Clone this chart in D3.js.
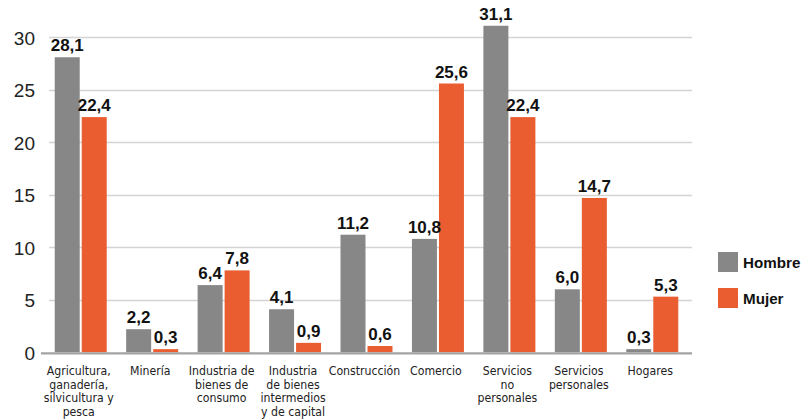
<!DOCTYPE html>
<html>
<head>
<meta charset="utf-8">
<script src="https://cdn.jsdelivr.net/npm/d3@7"></script>
<style>
  html, body { margin: 0; padding: 0; background: #fff; }
  svg { display: block; }
</style>
</head>
<body>
<svg id="chart" width="804" height="420"></svg>
<script>
// Sector labels (line breaks as drawn under the axis)
const categories = [
  "Agricultura,\nganadería,\nsilvicultura y\npesca",
  "Minería",
  "Industria de\nbienes de\nconsumo",
  "Industria\nde bienes\nintermedios\ny de capital",
  "Construcción",
  "Comercio",
  "Servicios\nno\npersonales",
  "Servicios\npersonales",
  "Hogares"
];
const hombre = [28.1, 2.2, 6.4, 4.1, 11.2, 10.8, 31.1, 6.0, 0.3];
const mujer  = [22.4, 0.3, 7.8, 0.9, 0.6, 25.6, 22.4, 14.7, 5.3];
const seriesNames = ["Hombre", "Mujer"];
const yTicks = [0, 5, 10, 15, 20, 25, 30];

const colors = { Hombre: "#878787", Mujer: "#E95D30" };

const svg = d3.select("#chart");

const x = d3.scaleBand()
  .domain(d3.range(categories.length))
  .range([45, 688])
  .paddingInner(0)
  .paddingOuter(0);

const y = d3.scaleLinear()
  .domain([0, 30])
  .range([352.3, 37.3]);

// Horizontal gridlines
svg.append("g")
  .selectAll("line")
  .data(yTicks.filter(d => d > 0))
  .join("line")
  .attr("x1", 49).attr("x2", 692)
  .attr("y1", d => Math.round(y(d)) + 0.5)
  .attr("y2", d => Math.round(y(d)) + 0.5)
  .attr("stroke", "#d4d4d4")
  .attr("stroke-width", 1.3);

// Y axis tick labels
const yAxis = d3.axisLeft(y).tickValues(yTicks).tickSize(0).tickPadding(0);
const gy = svg.append("g").attr("transform", "translate(35,0)").call(yAxis);
gy.select(".domain").remove();
gy.selectAll("text")
  .attr("font-family", "'Liberation Sans', Arial, sans-serif")
  .attr("font-size", 19)
  .attr("fill", "#222")
  .attr("dy", "0.36em");

// Bars
const barW = 25, gap = 2;
const rows = categories.map((c, i) => ({ i, values: [hombre[i], mujer[i]] }));

const groups = svg.append("g")
  .selectAll("g")
  .data(rows)
  .join("g")
  .attr("transform", d => `translate(${x(d.i) + x.bandwidth() / 2},0)`);

groups.selectAll("rect")
  .data(d => d.values.map((v, k) => ({ v, k })))
  .join("rect")
  .attr("x", d => d.k === 0 ? -(barW + gap / 2) : gap / 2)
  .attr("width", barW)
  .attr("y", d => y(d.v))
  .attr("height", d => y(0) - y(d.v))
  .attr("fill", d => colors[seriesNames[d.k]]);

// Value labels
const fmt = v => d3.format(".1f")(v).replace(".", ",");
groups.selectAll("text.val")
  .data(d => d.values.map((v, k) => ({ v, k })))
  .join("text")
  .attr("class", "val")
  .attr("x", d => d.k === 0 ? -(barW / 2 + gap / 2) : barW / 2 + gap / 2)
  .attr("y", d => y(d.v) - 6)
  .attr("text-anchor", "middle")
  .attr("font-family", "'Liberation Sans', Arial, sans-serif")
  .attr("font-weight", "bold")
  .attr("font-size", 17)
  .attr("fill", "#111")
  .text(d => fmt(d.v));

// Baseline
svg.append("line")
  .attr("x1", 41).attr("x2", 692)
  .attr("y1", y(0) + 1).attr("y2", y(0) + 1)
  .attr("stroke", "#a3a3a3")
  .attr("stroke-width", 2.2);

// Category labels
const catG = svg.append("g");
rows.forEach(d => {
  const cx = x(d.i) + x.bandwidth() / 2 - 2;
  const t = catG.append("text")
    .attr("x", cx)
    .attr("y", 375)
    .attr("text-anchor", "middle")
    .attr("font-family", "'DejaVu Sans Condensed', 'Liberation Sans Narrow', sans-serif")
    .attr("font-stretch", "condensed")
    .attr("font-size", 12.2)
    .attr("fill", "#222");
  categories[d.i].split("\n").forEach((line, j) => {
    t.append("tspan")
      .attr("x", cx)
      .attr("dy", j === 0 ? 0 : 13.6)
      .text(line);
  });
});

// Legend
const legend = svg.append("g").attr("transform", "translate(718,252)");
seriesNames.forEach((name, k) => {
  const g = legend.append("g").attr("transform", `translate(0,${k * 36})`);
  g.append("rect").attr("width", 20).attr("height", 20).attr("fill", colors[name]);
  g.append("text")
    .attr("x", 25).attr("y", 16)
    .attr("font-family", "'Liberation Sans', Arial, sans-serif")
    .attr("font-weight", "bold")
    .attr("font-size", 15.2)
    .attr("fill", "#111")
    .text(name);
});
</script>
</body>
</html>
